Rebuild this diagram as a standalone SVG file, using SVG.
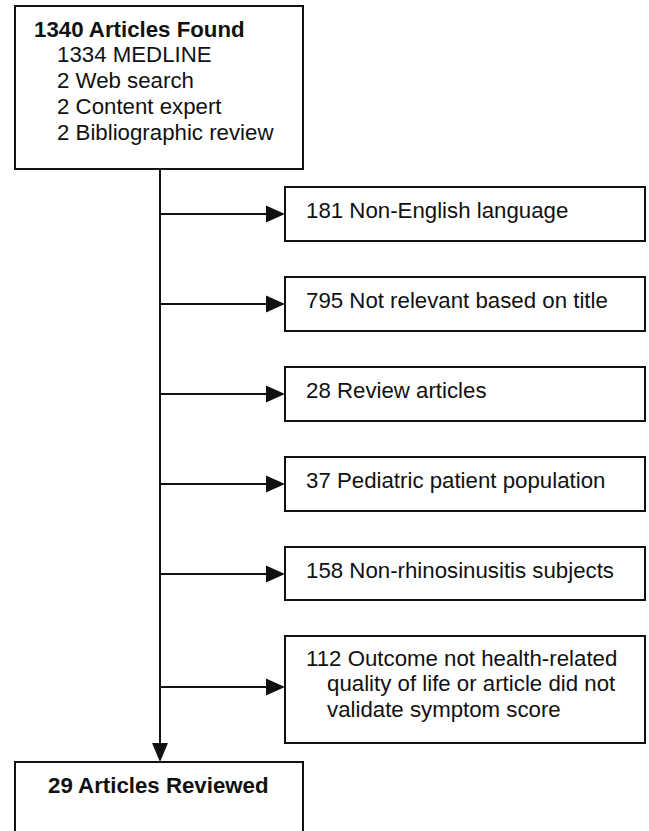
<svg xmlns="http://www.w3.org/2000/svg" width="649" height="831" viewBox="0 0 649 831">
<style>
.box{fill:#fff;stroke:#111;stroke-width:2}
.ln{stroke:#111;stroke-width:2;fill:none}
.ah{fill:#111}
text{font-family:"Liberation Sans",Arial,sans-serif;font-size:21.4px;fill:#111}
.b{font-weight:bold}
</style>
<rect width="649" height="831" fill="#fff"/>
<g id="connectors">
<line class="ln" x1="160" y1="169" x2="160" y2="745"/>
<polygon class="ah" points="152,743 168,743 160,762"/>
<line class="ln" x1="160" y1="214" x2="268" y2="214"/>
<polygon class="ah" points="266,205.5 285,214 266,222.5"/>
<line class="ln" x1="160" y1="304" x2="268" y2="304"/>
<polygon class="ah" points="266,295.5 285,304 266,312.5"/>
<line class="ln" x1="160" y1="394" x2="268" y2="394"/>
<polygon class="ah" points="266,385.5 285,394 266,402.5"/>
<line class="ln" x1="160" y1="484" x2="268" y2="484"/>
<polygon class="ah" points="266,475.5 285,484 266,492.5"/>
<line class="ln" x1="160" y1="574" x2="268" y2="574"/>
<polygon class="ah" points="266,565.5 285,574 266,582.5"/>
<line class="ln" x1="160" y1="687" x2="268" y2="687"/>
<polygon class="ah" points="266,678.5 285,687 266,695.5"/>
</g>
<g id="found">
<rect class="box" x="15" y="6" width="288" height="163"/>
<text class="b" transform="translate(34,37) scale(1.04,1)">1340 Articles Found</text>
<text transform="translate(57,62) scale(1.04,1)">1334 MEDLINE</text>
<text transform="translate(57,88) scale(1.04,1)">2 Web search</text>
<text transform="translate(57,114) scale(1.04,1)">2 Content expert</text>
<text transform="translate(57,140) scale(1.04,1)">2 Bibliographic review</text>
</g>
<g id="ex1">
<rect class="box" x="285" y="187" width="360" height="54"/>
<text transform="translate(306,218) scale(1.04,1)">181 Non-English language</text>
</g>
<g id="ex2">
<rect class="box" x="285" y="277" width="360" height="54"/>
<text transform="translate(306,308) scale(1.04,1)">795 Not relevant based on title</text>
</g>
<g id="ex3">
<rect class="box" x="285" y="367" width="360" height="54"/>
<text transform="translate(306,398) scale(1.04,1)">28 Review articles</text>
</g>
<g id="ex4">
<rect class="box" x="285" y="457" width="360" height="54"/>
<text transform="translate(306,488) scale(1.04,1)">37 Pediatric patient population</text>
</g>
<g id="ex5">
<rect class="box" x="285" y="547" width="360" height="53"/>
<text transform="translate(306,578) scale(1.04,1)">158 Non-rhinosinusitis subjects</text>
</g>
<g id="ex6">
<rect class="box" x="285" y="636" width="360" height="107"/>
<text transform="translate(306,666) scale(1.04,1)">112 Outcome not health-related</text>
<text transform="translate(327,691) scale(1.04,1)">quality of life or article did not</text>
<text transform="translate(327,717) scale(1.04,1)">validate symptom score</text>
</g>
<g id="reviewed">
<rect class="box" x="15" y="762" width="288" height="90"/>
<text class="b" transform="translate(48,793) scale(1.04,1)">29 Articles Reviewed</text>
</g>
</svg>
